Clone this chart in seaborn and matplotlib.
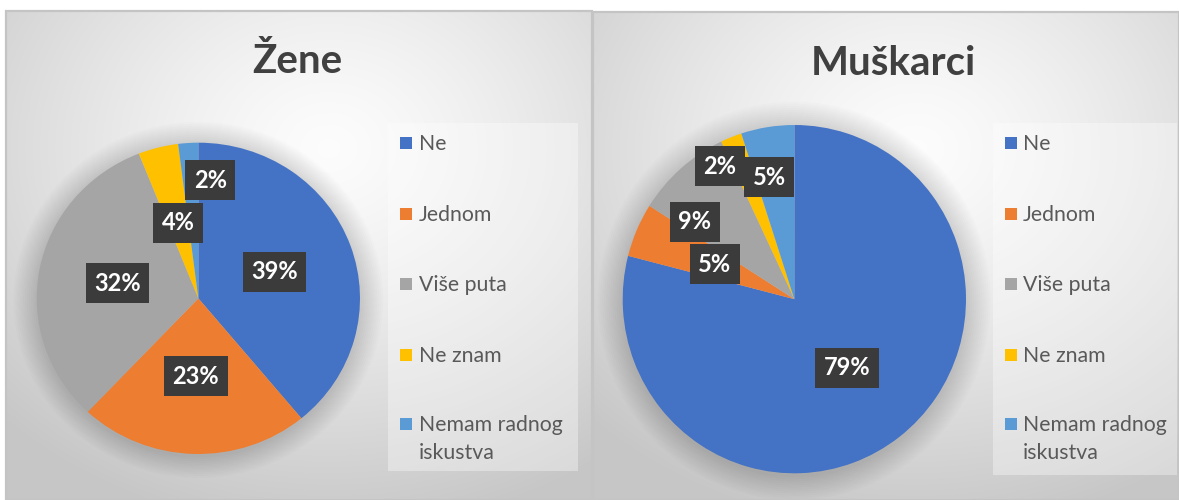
import textwrap
import numpy as np
import matplotlib
matplotlib.use("Agg")
import matplotlib.pyplot as plt
import seaborn as sns
from matplotlib.patches import Rectangle, Ellipse

# ---------------- data ----------------
categories = ["Ne", "Jednom", "Više puta", "Ne znam", "Nemam radnog iskustva"]
zene_values = [39, 23, 32, 4, 2]
muskarci_values = [79, 5, 9, 2, 5]
titles = ["Žene", "Muškarci"]

# ---------------- style ----------------
sns.set_theme(style="white")
plt.rcParams["font.family"] = ["Lato", "DejaVu Sans"]
palette = sns.color_palette(["#4472C4", "#ED7D31", "#A5A5A5", "#FFC000", "#5B9BD5"])

W, H = 1179, 500
fig = plt.figure(figsize=(W / 100, H / 100), dpi=100)
fig.patch.set_facecolor("white")


def fx(px):
    return px / W


def fy(py):
    return 1 - py / H


def radial_gradient(w, h, cx, cy):
    yy, xx = np.mgrid[0:h, 0:w]
    d = np.sqrt(((xx - cx * w) / w) ** 2 + ((yy - cy * h) / h) ** 2)
    d = np.clip(d / 0.78, 0, 1)
    c0, c1 = 0.99, 0.78
    v = c0 + (c1 - c0) * d ** 1.3
    return np.dstack([v, v, v])


# layout (pixels, top-based)
panels = [(6, 11, 592, 500), (593, 12, 1179, 500)]
title_pos = [(297, 73), (893, 75)]
pie_boxes = [(36.7, 142.7, 360.0, 454.0), (622.7, 125.0, 966.0, 473.3)]
legend_boxes = [(388, 123, 578, 471), (993, 123, 1177, 475)]
legend_marker_x = [400, 1005]
legend_text_x = [419, 1023]
legend_rows = [143, 213.5, 284, 354.5, 424]
legend_line_gap = 28
label_r = [[0.5, 0.5, 0.51, 0.5, 0.764], [0.5, 0.505, 0.732, 0.879, 0.714]]
label_shift = [[0, 0, 0, 0, -9.2], [0, 0, 11.1, 8.1, 2.8]]

series = [zene_values, muskarci_values]

for i, vals in enumerate(series):
    x0, y0, x1, y1 = panels[i]
    # background panel
    bg = fig.add_axes([fx(x0), fy(y1), fx(x1 - x0), (y1 - y0) / H])
    bg.imshow(radial_gradient(int(x1 - x0), int(y1 - y0), 0.55, 0.28),
              aspect="auto", extent=[0, 1, 0, 1], interpolation="bilinear")
    bg.set_xlim(0, 1)
    bg.set_ylim(0, 1)
    bg.axis("off")
    fig.patches.append(Rectangle((fx(x0), fy(y1)), fx(x1 - x0), (y1 - y0) / H,
                                 transform=fig.transFigure, fill=False,
                                 ec="#c4c4c4", lw=1.6, zorder=1))

    # title
    tx, ty = title_pos[i]
    fig.text(fx(tx), fy(ty), titles[i], ha="center", va="baseline",
             fontsize=29, fontweight="bold", color="#404040")

    # pie
    px0, py0, px1, py1 = pie_boxes[i]
    ax = fig.add_axes([fx(px0), fy(py1), fx(px1 - px0), (py1 - py0) / H])
    ax.set_facecolor("none")
    # soft shadow around pie
    for k in range(12):
        s = 1.0 + 0.012 * (k + 1)
        ax.add_patch(Ellipse((0, -0.01), 2 * s, 2 * s, fc="black", ec="none",
                             alpha=0.012, zorder=0, clip_on=False))
    wedges, _ = ax.pie(vals, colors=palette, startangle=90, counterclock=False,
                       wedgeprops=dict(linewidth=0))
    for w in wedges:
        w.set_zorder(2)
    ax.set_aspect("auto")
    ax.set_xlim(-1, 1)
    ax.set_ylim(-1, 1)
    ax.axis("off")

    for j, (w, v) in enumerate(zip(wedges, vals)):
        ang = np.deg2rad((w.theta1 + w.theta2) / 2 + label_shift[i][j])
        r = label_r[i][j]
        ax.text(r * np.cos(ang), r * np.sin(ang), f"{v}%", ha="center",
                va="center", color="white", fontsize=17, fontweight="bold",
                zorder=5,
                bbox=dict(boxstyle="square,pad=0.36", fc="#3b3b3b", ec="none"))

    # legend
    lx0, ly0, lx1, ly1 = legend_boxes[i]
    fig.patches.append(Rectangle((fx(lx0), fy(ly1)), fx(lx1 - lx0), (ly1 - ly0) / H,
                                 transform=fig.transFigure, fc="white", ec="none",
                                 alpha=0.35, zorder=2))
    for j, cat in enumerate(categories):
        yc = legend_rows[j]
        fig.patches.append(Rectangle((fx(legend_marker_x[i]), fy(yc + 6)), fx(12), 12 / H,
                                     transform=fig.transFigure, fc=palette[j],
                                     ec="none", zorder=3))
        for k, line in enumerate(textwrap.wrap(cat, 13)):
            fig.text(fx(legend_text_x[i]), fy(yc + 7 + k * legend_line_gap), line,
                     ha="left", va="baseline", fontsize=15.3, color="#595959",
                     zorder=4)

fig.savefig("out.png", dpi=100, facecolor="white")
